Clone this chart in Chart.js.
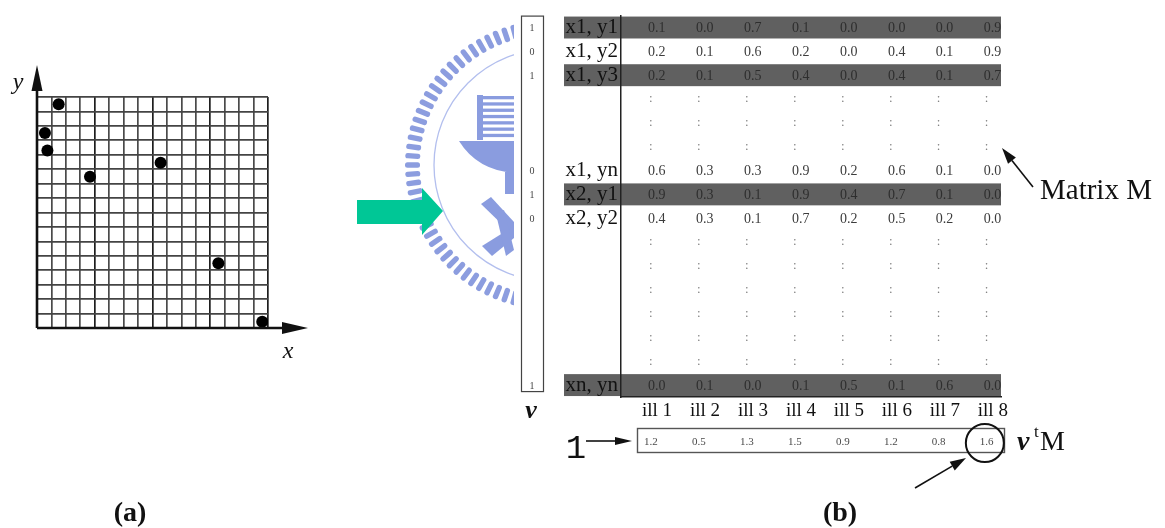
<!DOCTYPE html>
<html>
<head>
<meta charset="utf-8">
<script src="https://cdn.jsdelivr.net/npm/chart.js@4/dist/chart.umd.min.js"></script>
<style>
  html, body { margin: 0; padding: 0; background: #fff; width: 1165px; height: 528px; overflow: hidden; }
  #matrix { position: absolute; left: 0; top: 0; }
  #grid { position: absolute; left: 0; top: 40px; }
</style>
</head>
<body>
<canvas id="matrix" width="1165" height="528"></canvas>
<canvas id="grid" width="330" height="330"></canvas>
<script>
// ---- Panel (a): occupied cells on the 16 x 16 grid ----
const cellX = [1.5, 0.55, 0.72, 3.67, 8.56, 12.56, 15.6];
const cellY = [15.5, 13.5, 12.3, 10.48, 11.45, 4.48, 0.44];

// ---- Panel (b): matrix M, selection vector v and the product v^t M ----
const illnesses = ['ill 1', 'ill 2', 'ill 3', 'ill 4', 'ill 5', 'ill 6', 'ill 7', 'ill 8'];
const rowLabels = ['x1, y1', 'x1, y2', 'x1, y3', '', '', '', 'x1, yn', 'x2, y1', 'x2, y2',
                   '', '', '', '', '', '', 'xn, yn'];
const vVector = [1, 0, 1, null, null, null, 0, 1, 0, null, null, null, null, null, null, 1];

const mX1Y1 = [0.1, 0.0, 0.7, 0.1, 0.0, 0.0, 0.0, 0.9];
const mX1Y2 = [0.2, 0.1, 0.6, 0.2, 0.0, 0.4, 0.1, 0.9];
const mX1Y3 = [0.2, 0.1, 0.5, 0.4, 0.0, 0.4, 0.1, 0.7];
const mX1Yn = [0.6, 0.3, 0.3, 0.9, 0.2, 0.6, 0.1, 0.0];
const mX2Y1 = [0.9, 0.3, 0.1, 0.9, 0.4, 0.7, 0.1, 0.0];
const mX2Y2 = [0.4, 0.3, 0.1, 0.7, 0.2, 0.5, 0.2, 0.0];
const mXnYn = [0.0, 0.1, 0.0, 0.1, 0.5, 0.1, 0.6, 0.0];
const matrixRows = [mX1Y1, mX1Y2, mX1Y3, null, null, null, mX1Yn, mX2Y1, mX2Y2,
                    null, null, null, null, null, null, mXnYn];

const vtM = [1.2, 0.5, 1.3, 1.5, 0.9, 1.2, 0.8, 1.6];

const SERIF = '"Liberation Serif", "Times New Roman", serif';
Chart.defaults.font.family = SERIF;

function arrow(ctx, x1, y1, x2, y2, headLen, headW, color, lw) {
  const a = Math.atan2(y2 - y1, x2 - x1);
  const bx = x2 - Math.cos(a) * headLen, by = y2 - Math.sin(a) * headLen;
  ctx.save();
  ctx.strokeStyle = color; ctx.fillStyle = color; ctx.lineWidth = lw;
  ctx.beginPath(); ctx.moveTo(x1, y1); ctx.lineTo(bx, by); ctx.stroke();
  ctx.beginPath();
  ctx.moveTo(x2, y2);
  ctx.lineTo(bx + Math.sin(a) * headW, by - Math.cos(a) * headW);
  ctx.lineTo(bx - Math.sin(a) * headW, by + Math.cos(a) * headW);
  ctx.closePath(); ctx.fill();
  ctx.restore();
}

// Faint university seal behind the left edge of panel (b)
function drawSeal(ctx) {
  const cx = 550, cy = 165;
  ctx.save();
  ctx.beginPath(); ctx.rect(380, 0, 134, 340); ctx.clip();
  ctx.fillStyle = '#8c9ddf';
  const teeth = 96;
  for (let k = 0; k < teeth; k++) {
    ctx.save();
    ctx.translate(cx, cy);
    ctx.rotate(k / teeth * Math.PI * 2);
    ctx.beginPath();
    ctx.roundRect(130, -2.7, 15, 5.4, 2.5);
    ctx.fill();
    ctx.restore();
  }
  ctx.strokeStyle = '#b3bfee'; ctx.lineWidth = 1.3;
  ctx.beginPath(); ctx.arc(cx, cy, 116, 0, Math.PI * 2); ctx.stroke();
  ctx.fillStyle = '#8a9cdf';
  ctx.fillRect(477, 95, 6, 45);
  for (let s = 0; s < 7; s++) ctx.fillRect(483, 96 + s * 6.3, 31, 3.3);
  ctx.beginPath();
  ctx.moveTo(459, 141); ctx.lineTo(514, 141); ctx.lineTo(514, 173);
  ctx.quadraticCurveTo(477, 170, 459, 141); ctx.closePath(); ctx.fill();
  ctx.fillRect(505, 172, 9, 22);
  ctx.beginPath();
  ctx.moveTo(481, 204); ctx.lineTo(491, 197); ctx.lineTo(514, 222); ctx.lineTo(514, 236);
  ctx.closePath(); ctx.fill();
  ctx.beginPath();
  ctx.moveTo(482, 246); ctx.lineTo(492, 256); ctx.lineTo(514, 238); ctx.lineTo(514, 226);
  ctx.closePath(); ctx.fill();
  ctx.beginPath();
  ctx.moveTo(496, 214); ctx.lineTo(504, 210); ctx.lineTo(514, 250); ctx.lineTo(506, 256);
  ctx.closePath(); ctx.fill();
  ctx.restore();
}

// ---------------- Panel (b) ----------------
const cells = [];
matrixRows.forEach((row, r) => {
  illnesses.forEach((_, c) => {
    cells.push({ x: c + 1, y: r, text: row ? row[c].toFixed(1) : ':', hl: vVector[r] === 1 });
  });
});

const matrixDecor = {
  id: 'matrixDecor',
  beforeDraw(chart) {
    const ctx = chart.ctx;
    const ys = chart.scales.y, area = chart.chartArea;
    drawSeal(ctx);

    // green arrow pointing into the matrix
    ctx.save();
    ctx.fillStyle = '#00c796';
    ctx.beginPath();
    ctx.moveTo(357, 200); ctx.lineTo(422, 200); ctx.lineTo(422, 188); ctx.lineTo(443, 211);
    ctx.lineTo(422, 235); ctx.lineTo(422, 224); ctx.lineTo(357, 224);
    ctx.closePath(); ctx.fill();
    ctx.restore();

    // shaded rows selected by v
    const rowH = (ys.getPixelForValue(1) - ys.getPixelForValue(0));
    ctx.save();
    vVector.forEach((v, r) => {
      if (v !== 1) return;
      const yc = ys.getPixelForValue(r);
      ctx.fillStyle = '#606060';
      ctx.fillRect(564, yc - rowH * 0.46, area.right - 564, rowH * 0.92);
    });
    ctx.restore();

    // vector v
    ctx.save();
    ctx.strokeStyle = '#444'; ctx.lineWidth = 1.2;
    ctx.strokeRect(521.5, area.top + 0.5, 22, ys.getPixelForValue(15) + 6 - area.top);
    ctx.fillStyle = '#444';
    ctx.font = '10px ' + SERIF;
    ctx.textAlign = 'center'; ctx.textBaseline = 'middle';
    vVector.forEach((v, r) => {
      if (v === null) return;
      ctx.fillText(String(v), 532, ys.getPixelForValue(r) + 1);
    });
    ctx.restore();
  },
  afterDatasetsDraw(chart) {
    const ctx = chart.ctx;
    const meta = chart.getDatasetMeta(0);
    ctx.save();
    ctx.textAlign = 'left'; ctx.textBaseline = 'middle';
    meta.data.forEach((el, i) => {
      const c = cells[i];
      if (c.text === ':') {
        ctx.fillStyle = '#808080';
        ctx.font = '13px ' + SERIF;
        ctx.fillText(':', el.x - 8, el.y);
      } else {
        ctx.fillStyle = c.hl ? '#2e2e2e' : '#3c3c3c';
        ctx.font = '14px ' + SERIF;
        ctx.fillText(c.text, el.x - 9, el.y + 1);
      }
    });
    ctx.restore();
  },
  afterDraw(chart) {
    const ctx = chart.ctx;
    const xs = chart.scales.x;

    // "Matrix M" callout
    arrow(ctx, 1033, 187, 1002, 148, 16, 5, '#111', 1.6);
    ctx.save();
    ctx.fillStyle = '#111';
    ctx.textBaseline = 'alphabetic'; ctx.textAlign = 'left';
    ctx.font = '29px ' + SERIF;
    ctx.fillText('Matrix M', 1040, 199);

    // v label under the vector
    ctx.font = 'italic bold 26px ' + SERIF;
    ctx.textAlign = 'center';
    ctx.fillText('v', 531, 418);

    // the "1" feeding into the product row
    ctx.font = '34px "Liberation Mono", monospace';
    ctx.fillText('1', 576, 458);
    ctx.restore();
    arrow(ctx, 586, 441, 632, 441, 17, 4, '#111', 1.6);

    // product row v^t M
    ctx.save();
    ctx.strokeStyle = '#555'; ctx.lineWidth = 1.4;
    ctx.strokeRect(637.5, 428.5, 367, 24);
    ctx.fillStyle = '#4a4a4a';
    ctx.font = '11px ' + SERIF;
    ctx.textAlign = 'left'; ctx.textBaseline = 'middle';
    vtM.forEach((v, c) => {
      ctx.fillText(v.toFixed(1), xs.getPixelForValue(c + 1) - 13, 442);
    });
    // circled maximum
    const best = vtM.indexOf(Math.max(...vtM));
    ctx.strokeStyle = '#111'; ctx.lineWidth = 2;
    ctx.beginPath(); ctx.arc(xs.getPixelForValue(best + 1) - 8, 443, 19, 0, Math.PI * 2); ctx.stroke();
    ctx.restore();
    arrow(ctx, 915, 488, 966, 458, 16, 5, '#111', 1.6);

    // v^t M label
    ctx.save();
    ctx.fillStyle = '#111';
    ctx.textAlign = 'left'; ctx.textBaseline = 'alphabetic';
    ctx.font = 'italic bold 28px ' + SERIF;
    ctx.fillText('v', 1017, 450);
    ctx.font = '17px ' + SERIF;
    ctx.fillText('t', 1034, 437);
    ctx.font = '28px ' + SERIF;
    ctx.fillText('M', 1040, 450);

    // panel captions
    ctx.font = 'bold 28px ' + SERIF;
    ctx.textAlign = 'center';
    ctx.fillText('(a)', 130, 521);
    ctx.fillText('(b)', 840, 521);
    ctx.restore();
  }
};

new Chart(document.getElementById('matrix'), {
  type: 'scatter',
  data: {
    datasets: [{ data: cells, pointRadius: 0, pointHoverRadius: 0, clip: false }]
  },
  options: {
    responsive: false,
    animation: false,
    events: [],
    layout: { padding: { left: 563, right: 164, top: 12, bottom: 101 } },
    plugins: { legend: { display: false }, tooltip: { enabled: false } },
    scales: {
      x: {
        type: 'linear', position: 'bottom', min: 0.25, max: 8.17,
        afterBuildTicks: s => { s.ticks = illnesses.map((_, i) => ({ value: i + 1 })); },
        afterFit: s => { s.height = 30; },
        ticks: {
          autoSkip: false, maxRotation: 0, padding: 3, color: '#111',
          font: { size: 19 }, callback: v => illnesses[v - 1]
        },
        grid: { display: false, drawTicks: false },
        border: { display: true, color: '#222', width: 1.5 }
      },
      y: {
        type: 'linear', position: 'left', reverse: true, min: -0.5, max: 15.5,
        afterBuildTicks: s => { s.ticks = rowLabels.map((_, i) => ({ value: i })); },
        afterFit: s => { s.width = 58; },
        ticks: {
          autoSkip: false, padding: 3, color: '#111',
          font: { size: 21 }, callback: v => rowLabels[v]
        },
        grid: { display: false, drawTicks: false },
        border: { display: true, color: '#222', width: 1.5 }
      }
    }
  },
  plugins: [matrixDecor]
});

// ---------------- Panel (a) ----------------
const gridAxes = {
  id: 'gridAxes',
  afterDraw(chart) {
    const ctx = chart.ctx, a = chart.chartArea;
    arrow(ctx, a.left, a.bottom, a.left, 25, 26, 5.5, '#111', 2.6);
    arrow(ctx, a.left, a.bottom, 308, a.bottom, 26, 6, '#111', 2.6);
    ctx.save();
    ctx.fillStyle = '#111';
    ctx.font = 'italic 24px ' + SERIF;
    ctx.textAlign = 'center'; ctx.textBaseline = 'alphabetic';
    ctx.fillText('y', 18, 49);
    ctx.fillText('x', 288, 318);
    ctx.restore();
  }
};

new Chart(document.getElementById('grid'), {
  type: 'scatter',
  data: {
    datasets: [{
      data: cellX.map((x, i) => ({ x, y: cellY[i] })),
      backgroundColor: '#000', borderColor: '#000',
      pointRadius: 6, pointHoverRadius: 6, borderWidth: 0
    }]
  },
  options: {
    responsive: false,
    animation: false,
    events: [],
    layout: { padding: { left: 37, top: 57, right: 62, bottom: 42 } },
    plugins: { legend: { display: false }, tooltip: { enabled: false } },
    scales: {
      x: {
        type: 'linear', min: 0, max: 16,
        ticks: { display: false, stepSize: 1 },
        grid: { drawTicks: false, lineWidth: 1.7, color: c => (c.tick && c.tick.value % 4 === 0) ? '#1e1e1e' : '#4a4a4a' },
        border: { display: false }
      },
      y: {
        type: 'linear', min: 0, max: 16,
        ticks: { display: false, stepSize: 1 },
        grid: { drawTicks: false, lineWidth: 1.7, color: '#444' },
        border: { display: false }
      }
    }
  },
  plugins: [gridAxes]
});
</script>
</body>
</html>
